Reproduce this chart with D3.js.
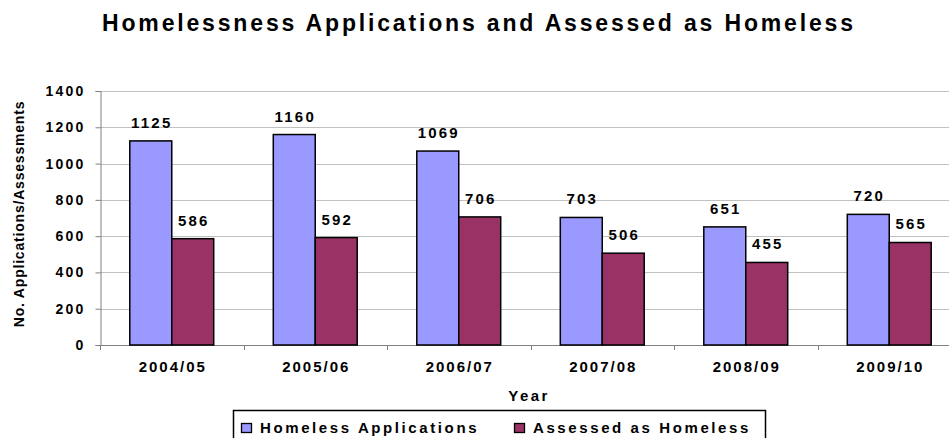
<!DOCTYPE html>
<html>
<head>
<meta charset="utf-8">
<script src="https://cdn.jsdelivr.net/npm/d3@7/dist/d3.min.js"></script>
<style>
  html, body { margin: 0; padding: 0; background: #fff; }
  svg { display: block; }
  text { font-family: "Liberation Sans", Arial, sans-serif; font-weight: bold; fill: #000; }
</style>
</head>
<body>
<svg id="chart" width="949" height="438"></svg>
<script>
const years = ["2004/05", "2005/06", "2006/07", "2007/08", "2008/09", "2009/10"];
const applications = [1125, 1160, 1069, 703, 651, 720];
const assessed = [586, 592, 706, 506, 455, 565];
const yTicks = [0, 200, 400, 600, 800, 1000, 1200, 1400];
const seriesNames = ["Homeless Applications", "Assessed as Homeless"];
const seriesColors = ["#9999FF", "#993366"];

const svg = d3.select("#chart");
const W = 949, H = 438;
const plotLeft = 100, plotRight = 961, plotTop = 91, plotBottom = 345;

const x = d3.scaleBand().domain(years).range([plotLeft, plotRight]).paddingInner(0).paddingOuter(0);
const inner = d3.scaleBand().domain([0, 1]).range([0, x.bandwidth()]).paddingOuter(0.71).paddingInner(0);
const y = d3.scaleLinear().domain([0, 1400]).range([plotBottom, plotTop]);

// title
svg.append("text")
  .attr("x", 477.5).attr("y", 31)
  .attr("text-anchor", "middle")
  .attr("textLength", 751).attr("lengthAdjust", "spacing")
  .style("font-size", "23px")
  .text("Homelessness Applications and Assessed as Homeless");

// gridlines
svg.append("g").selectAll("line").data(yTicks.filter(d => d > 0)).join("line")
  .attr("x1", plotLeft).attr("x2", W)
  .attr("y1", d => Math.round(y(d)) + 0.5).attr("y2", d => Math.round(y(d)) + 0.5)
  .attr("stroke", "#c0c0c0").attr("stroke-width", 1);

// y axis
const yAxis = svg.append("g").attr("transform", `translate(${plotLeft + 0.5},0)`)
  .call(d3.axisLeft(y).tickValues(yTicks).tickFormat(d3.format("d")).tickSize(5).tickPadding(10));
yAxis.select(".domain").attr("stroke", "#808080");
yAxis.selectAll(".tick line").attr("stroke", "#808080");
yAxis.selectAll(".tick text")
  .style("font-size", "14px").style("letter-spacing", "2.2px")
  .style("font-family", "Liberation Sans, Arial, sans-serif").style("font-weight", "bold")
  .attr("fill", "#000");

// x axis with ticks at category boundaries
svg.append("line").attr("x1", plotLeft).attr("x2", W)
  .attr("y1", plotBottom + 0.5).attr("y2", plotBottom + 0.5).attr("stroke", "#808080");
const boundaries = years.map(d => x(d)).concat([x(years[years.length - 1]) + x.bandwidth()]);
svg.append("g").selectAll("line").data(boundaries).join("line")
  .attr("x1", d => Math.round(d) + 0.5).attr("x2", d => Math.round(d) + 0.5)
  .attr("y1", plotBottom).attr("y2", plotBottom + 5)
  .attr("stroke", "#808080");
svg.append("g").selectAll("text").data(years).join("text")
  .attr("x", d => x(d) + x.bandwidth() / 2 + 1)
  .attr("y", 372)
  .attr("text-anchor", "middle")
  .style("font-size", "15px").style("letter-spacing", "2px")
  .text(d => d);

// axis titles
svg.append("text").attr("x", 529).attr("y", 401).attr("text-anchor", "middle")
  .style("font-size", "15px").style("letter-spacing", "2.4px").text("Year");
svg.append("text")
  .attr("transform", `translate(24,${214}) rotate(-90)`)
  .attr("text-anchor", "middle")
  .style("font-size", "14px").style("letter-spacing", "0.8px")
  .text("No. Applications/Assessments");

// bars and value labels
const series = [applications, assessed];
series.forEach((vals, si) => {
  const g = svg.append("g");
  g.selectAll("rect").data(years).join("rect")
    .attr("x", (d, i) => x(d) + inner(si))
    .attr("y", (d, i) => y(vals[i]))
    .attr("width", inner.bandwidth())
    .attr("height", (d, i) => plotBottom - y(vals[i]))
    .attr("fill", seriesColors[si])
    .attr("stroke", "#000").attr("stroke-width", 1.5);
  g.selectAll("text").data(years).join("text")
    .attr("x", (d, i) => x(d) + inner(si) + inner.bandwidth() / 2 + 1)
    .attr("y", (d, i) => y(vals[i]) - 13)
    .attr("text-anchor", "middle")
    .style("font-size", "15px").style("letter-spacing", "2.2px")
    .text((d, i) => vals[i]);
});

// legend
const lg = svg.append("g");
lg.append("rect").attr("x", 233.5).attr("y", 410.5).attr("width", 532).attr("height", 30)
  .attr("fill", "#fff").attr("stroke", "#000").attr("stroke-width", 1.5);
const legendX = [241, 514];
seriesNames.forEach((name, i) => {
  lg.append("rect").attr("x", legendX[i] + 0.5).attr("y", 423.5).attr("width", 10).attr("height", 9)
    .attr("fill", seriesColors[i]).attr("stroke", "#000").attr("stroke-width", 1.3);
  lg.append("text").attr("x", legendX[i] + 19).attr("y", 433)
    .style("font-size", "15px").style("letter-spacing", "2.6px")
    .text(name);
});
</script>
</body>
</html>
